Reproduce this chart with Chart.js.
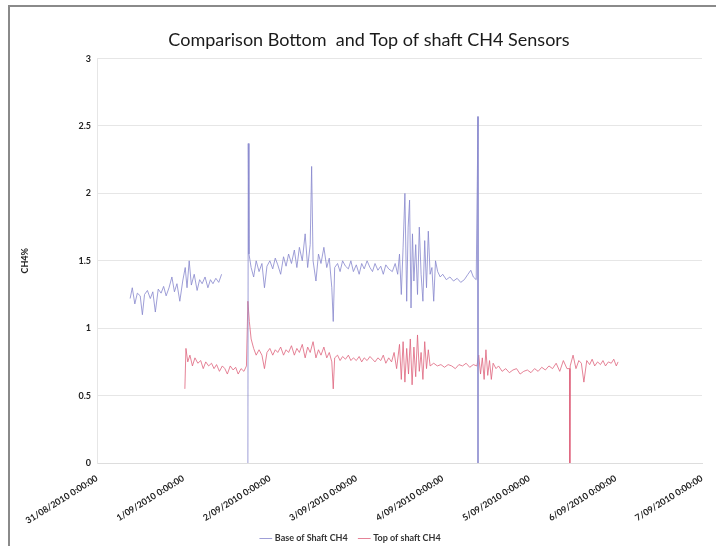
<!DOCTYPE html>
<html>
<head>
<meta charset="utf-8">
<title>Comparison Bottom and Top of shaft CH4 Sensors</title>
<script src="https://cdn.jsdelivr.net/npm/chart.js@4.4.1/dist/chart.umd.min.js"></script>
<style>
    html, body { margin: 0; padding: 0; background: #ffffff; overflow: hidden; }
    #frame {
        position: absolute; left: 8px; top: 5px; width: 740px; height: 580px;
        border-left: 2px solid #8a8a8a; border-top: 2px solid #8a8a8a;
        box-sizing: border-box;
    }
    #wrap { position: absolute; left: 0; top: 0; width: 716px; height: 546px; }
</style>
</head>
<body>
<div id="frame"></div>
<div id="wrap"><canvas id="chart" width="716" height="546"></canvas></div>
<script>
// ========================================
// Data (hours since 31/08/2010 0:00:00)
// ========================================
const TICK_LABELS = [
    '31/08/2010 0:00:00', '1/09/2010 0:00:00', '2/09/2010 0:00:00', '3/09/2010 0:00:00',
    '4/09/2010 0:00:00', '5/09/2010 0:00:00', '6/09/2010 0:00:00', '7/09/2010 0:00:00'
];

// Base of Shaft CH4
const baseHours = [
    9.2, 9.8, 10.5, 11.2, 12.0, 12.6, 13.2, 14.0, 14.8, 15.5, 16.2, 17.0, 17.8, 18.5, 19.2, 20.0,
    20.8, 21.5, 22.2, 23.0, 23.8, 24.5, 25.0, 25.6, 26.2, 27.0, 27.8, 28.5, 29.2, 30.0, 30.8, 31.5,
    32.2, 33.0, 33.8, 34.6, 38.0,
    41.9, 42.0, 42.2, 42.8, 43.5, 44.2, 45.0, 45.8, 46.5, 47.2, 48.0, 48.8, 49.5, 50.2, 51.0, 51.8,
    52.5, 53.2, 54.0, 54.8, 55.5, 56.2, 57.0, 57.8, 58.5, 59.2, 59.6, 60.0, 60.8, 61.5, 62.2, 63.0,
    63.8, 64.5, 65.2, 65.6, 66.0, 66.8, 67.5, 68.2, 69.0, 69.8, 70.5, 71.2, 72.0, 72.8, 73.5, 74.2,
    75.0, 75.8, 76.5, 77.2, 78.0, 78.8, 79.5, 80.2, 81.0, 82.0, 82.8, 83.5, 84.0, 84.5, 85.0, 85.5,
    86.0, 86.4, 86.8, 87.2, 87.6, 88.0, 88.5, 89.0, 89.5, 90.0, 90.5, 91.0, 91.5, 92.0, 92.5, 93.0,
    93.5, 94.0, 94.6, 95.3, 96.0, 97.0, 98.0, 99.0, 100.0, 101.0, 102.0, 103.0, 103.8, 104.5, 105.3,
    105.8, 105.8
];
const baseValues = [
    1.22, 1.30, 1.18, 1.26, 1.24, 1.10, 1.25, 1.28, 1.22, 1.27, 1.12, 1.29, 1.26, 1.31, 1.24, 1.30,
    1.38, 1.27, 1.33, 1.20, 1.35, 1.45, 1.30, 1.50, 1.32, 1.40, 1.28, 1.36, 1.33, 1.38, 1.30, 1.36,
    1.33, 1.37, 1.34, 1.40, null,
    0.00, 2.37, 1.55, 1.45, 1.38, 1.50, 1.42, 1.48, 1.30, 1.46, 1.50, 1.44, 1.52, 1.47, 1.40, 1.53,
    1.46, 1.55, 1.48, 1.58, 1.45, 1.60, 1.50, 1.70, 1.45, 1.62, 2.20, 1.50, 1.35, 1.55, 1.48, 1.60,
    1.45, 1.52, 1.30, 1.05, 1.45, 1.48, 1.42, 1.50, 1.46, 1.44, 1.50, 1.42, 1.47, 1.40, 1.48, 1.44,
    1.50, 1.45, 1.42, 1.48, 1.43, 1.46, 1.40, 1.47, 1.44, 1.42, 1.48, 1.40, 1.55, 1.25, 1.60, 2.00,
    1.20, 1.75, 1.95, 1.15, 1.70, 1.35, 1.62, 1.25, 1.75, 1.40, 1.20, 1.65, 1.30, 1.72, 1.40, 1.45,
    1.20, 1.50, 1.42, 1.38, 1.40, 1.36, 1.38, 1.35, 1.37, 1.34, 1.36, 1.40, 1.43, 1.38, 1.36,
    2.57, 0.00
];

// Top of shaft CH4
const topHours = [
    24.4, 24.7, 25.2, 25.8, 26.5, 27.2, 28.0, 28.8, 29.5, 30.2, 31.0, 31.8, 32.5, 33.2, 34.0, 34.8,
    35.5, 36.2, 37.0, 37.8, 38.5, 39.2, 40.0, 40.8, 41.5, 41.9, 42.3, 42.8, 43.5, 44.2, 45.0, 45.8,
    46.5, 47.2, 48.0, 48.8, 49.5, 50.2, 51.0, 51.8, 52.5, 53.2, 54.0, 54.8, 55.5, 56.2, 57.0, 57.8,
    58.5, 59.2, 60.0, 60.8, 61.5, 62.2, 63.0, 63.8, 64.5, 65.2, 65.6, 66.0, 66.8, 67.5, 68.2, 69.0,
    69.8, 70.5, 71.2, 72.0, 72.8, 73.5, 74.2, 75.0, 75.8, 76.5, 77.2, 78.0, 78.8, 79.5, 80.2, 81.0,
    81.8, 82.5, 83.2, 84.0, 84.5, 85.0, 85.5, 86.0, 86.5, 87.0, 87.5, 88.0, 88.5, 89.0, 89.5, 90.0,
    90.5, 91.0, 91.5, 92.0, 92.5, 93.5, 94.5, 95.5, 96.5, 97.5, 98.5, 99.5, 100.5, 101.5, 102.5,
    103.5, 104.5, 105.5, 106.0, 106.5, 107.0, 107.5, 108.0, 108.5, 109.0, 109.5, 110.0, 110.8,
    111.5, 112.5, 113.5, 114.5, 115.5, 116.5, 117.5, 118.5, 119.5, 120.5, 121.5, 122.5, 123.5,
    124.5, 125.5, 126.5, 127.5, 128.5, 129.5, 130.5, 131.3, 131.3, 131.4, 132.2, 133.0, 133.8, 134.5,
    135.2, 136.0, 136.8, 137.5, 138.2, 139.0, 139.8, 140.5, 141.2, 142.0, 142.8, 143.5, 144.2, 144.7
];
const topValues = [
    0.55, 0.85, 0.75, 0.80, 0.72, 0.78, 0.74, 0.76, 0.70, 0.75, 0.72, 0.74, 0.70, 0.73, 0.68, 0.72,
    0.70, 0.66, 0.72, 0.69, 0.71, 0.66, 0.70, 0.68, 0.72, 1.20, 1.05, 0.92, 0.85, 0.80, 0.84, 0.80,
    0.70, 0.82, 0.85, 0.80, 0.84, 0.82, 0.86, 0.80, 0.84, 0.82, 0.87, 0.80, 0.85, 0.82, 0.88, 0.78,
    0.86, 0.82, 0.90, 0.78, 0.84, 0.80, 0.86, 0.78, 0.82, 0.75, 0.55, 0.78, 0.80, 0.76, 0.79, 0.77,
    0.80, 0.76, 0.78, 0.76, 0.79, 0.75, 0.78, 0.76, 0.79, 0.77, 0.75, 0.78, 0.76, 0.80, 0.74, 0.78,
    0.75, 0.82, 0.70, 0.88, 0.62, 0.90, 0.60, 0.85, 0.66, 0.92, 0.58, 0.86, 0.64, 0.95, 0.68, 0.82,
    0.62, 0.90, 0.70, 0.84, 0.72, 0.74, 0.72, 0.73, 0.71, 0.73, 0.72, 0.70, 0.73, 0.72, 0.74,
    0.71, 0.73, 0.72, 0.80, 0.66, 0.78, 0.62, 0.84, 0.65, 0.76, 0.62, 0.74, 0.70,
    0.72, 0.68, 0.70, 0.67, 0.69, 0.70, 0.66, 0.68, 0.69, 0.67, 0.70, 0.68, 0.71,
    0.69, 0.72, 0.70, 0.74, 0.68, 0.76, 0.70, 0.70, 0.00, 0.72, 0.80, 0.70, 0.76, 0.74,
    0.60, 0.76, 0.73, 0.77, 0.72, 0.75, 0.73, 0.76, 0.72, 0.75, 0.74, 0.77, 0.72, 0.75
];

const Y_TICKS = [0, 0.5, 1, 1.5, 2, 2.5, 3];

// ========================================
// Helpers
// ========================================
function toPoints(hours, values) {
    return hours.map((h, i) => ({ x: h, y: values[i] }));
}

function fixWidth(px) {
    return function(scale) { scale.width = px; };
}

function fixHeight(px) {
    return function(scale) { scale.height = px; };
}

// the original title sits a little right of centre, legend sits low
const nudgeBlocks = {
    id: 'nudgeBlocks',
    afterLayout(chart) {
        if (chart.titleBlock) {
            chart.titleBlock.left += 36;
        }
        if (chart.legend) {
            chart.legend.top -= 2;
            chart.legend.bottom -= 2;
        }
    }
};

// ========================================
// Chart
// ========================================
const labelFont = { family: 'Lato', size: 9, weight: 'bold' };

new Chart(document.getElementById('chart'), {
    type: 'line',
    data: {
        datasets: [
            {
                label: 'Base of Shaft CH4',
                data: toPoints(baseHours, baseValues),
                borderColor: 'rgba(135, 135, 205, 0.8)',
                backgroundColor: 'rgba(135, 135, 205, 0.8)',
                borderWidth: 1,
                pointRadius: 0,
                spanGaps: false,
                tension: 0
            },
            {
                label: 'Top of shaft CH4',
                data: toPoints(topHours, topValues),
                borderColor: 'rgba(222, 100, 125, 0.8)',
                backgroundColor: 'rgba(222, 100, 125, 0.8)',
                borderWidth: 1,
                pointRadius: 0,
                spanGaps: false,
                tension: 0
            }
        ]
    },
    plugins: [nudgeBlocks],
    options: {
        responsive: false,
        animation: false,
        layout: { padding: { left: 0, right: 14, top: 0, bottom: -9 } },
        plugins: {
            title: {
                display: true,
                text: 'Comparison Bottom  and Top of shaft CH4 Sensors',
                color: '#1a1a1a',
                font: { family: 'Lato', size: 18, weight: 'normal' },
                padding: { top: 29, bottom: 8 }
            },
            legend: {
                position: 'bottom',
                labels: {
                    color: '#333333',
                    font: labelFont,
                    usePointStyle: true,
                    pointStyle: 'line',
                    boxWidth: 18,
                    padding: 12
                }
            },
            tooltip: { enabled: false }
        },
        scales: {
            x: {
                type: 'linear',
                min: 0,
                max: 168,
                afterFit: fixHeight(61),
                ticks: {
                    stepSize: 24,
                    color: '#222222',
                    font: labelFont,
                    maxRotation: 32,
                    minRotation: 32,
                    autoSkip: false,
                    padding: 2,
                    callback: function(value) {
                        return TICK_LABELS[Math.round(value / 24)];
                    }
                },
                grid: { display: false },
                border: { color: '#dddddd' }
            },
            y: {
                min: 0,
                max: 3,
                afterFit: fixWidth(97),
                afterBuildTicks: function(scale) {
                    scale.ticks = Y_TICKS.map(v => ({ value: v }));
                },
                ticks: {
                    color: '#222222',
                    font: labelFont,
                    padding: 6,
                    callback: function(value) {
                        return String(value);
                    }
                },
                grid: { color: '#e6e6e6', drawTicks: false },
                border: { color: '#e6e6e6' },
                title: {
                    display: true,
                    text: 'CH4%',
                    color: '#222222',
                    font: labelFont,
                    padding: { top: 20, bottom: 0 }
                }
            }
        }
    }
});
</script>
</body>
</html>
